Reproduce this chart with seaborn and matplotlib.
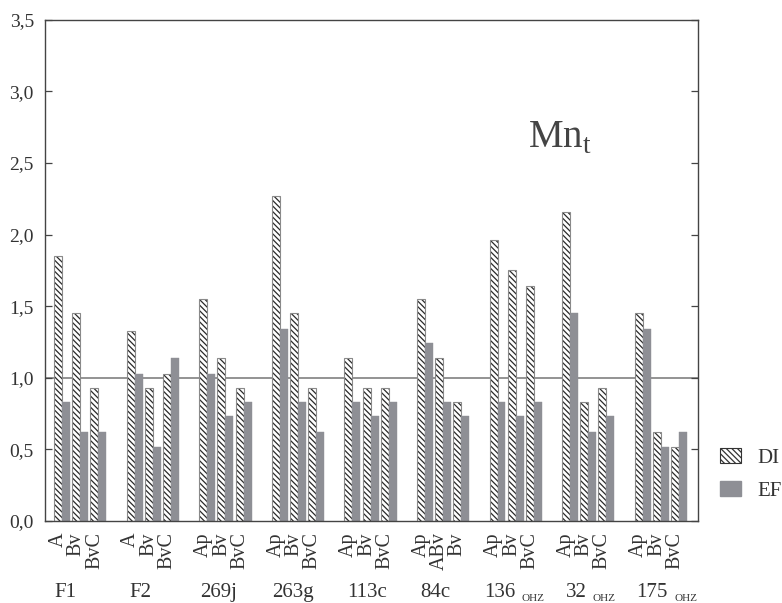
import matplotlib
matplotlib.use("Agg")
import matplotlib.pyplot as plt
from matplotlib.patches import Patch
import numpy as np
import pandas as pd
import seaborn as sns

# profiles and their horizons
profiles = ["F1", "F2", "269j", "263g", "113c", "84c", "136", "32", "175"]
profile_sub = ["", "", "", "", "", "", "OHZ", "OHZ", "OHZ"]
horizons = [
    ["A", "Bv", "BvC"],
    ["A", "Bv", "BvC"],
    ["Ap", "Bv", "BvC"],
    ["Ap", "Bv", "BvC"],
    ["Ap", "Bv", "BvC"],
    ["Ap", "ABv", "Bv"],
    ["Ap", "Bv", "BvC"],
    ["Ap", "Bv", "BvC"],
    ["Ap", "Bv", "BvC"],
]
di_values = [
    [1.85, 1.45, 0.93],
    [1.33, 0.93, 1.03],
    [1.55, 1.14, 0.93],
    [2.27, 1.45, 0.93],
    [1.14, 0.93, 0.93],
    [1.55, 1.14, 0.83],
    [1.96, 1.75, 1.64],
    [2.16, 0.83, 0.93],
    [1.45, 0.62, 0.52],
]
ef_values = [
    [0.83, 0.62, 0.62],
    [1.03, 0.52, 1.14],
    [1.03, 0.73, 0.83],
    [1.34, 0.83, 0.62],
    [0.83, 0.73, 0.83],
    [1.24, 0.83, 0.73],
    [0.83, 0.73, 0.83],
    [1.45, 0.62, 0.73],
    [1.34, 0.52, 0.62],
]
y_ticks = [0.0, 0.5, 1.0, 1.5, 2.0, 2.5, 3.0, 3.5]

# long-form table, one slot per horizon, an empty slot between profiles
rows = []
for g, (hz, di, ef) in enumerate(zip(horizons, di_values, ef_values)):
    for h in range(len(hz)):
        pos = 4 * g + h
        rows.append({"pos": pos, "horizon": hz[h], "index": "DI", "value": di[h]})
        rows.append({"pos": pos, "horizon": hz[h], "index": "EF", "value": ef[h]})
df = pd.DataFrame(rows)

sns.set_theme(style="ticks")
plt.rcParams["font.family"] = ["Liberation Serif", "DejaVu Serif"]
plt.rcParams["mathtext.fontset"] = "custom"
plt.rcParams["mathtext.rm"] = "Liberation Serif"
plt.rcParams["hatch.linewidth"] = 0.9
TXT = "#333333"
GRAY = "#8e8f95"

fig = plt.figure(figsize=(7.82, 6.03), dpi=100)
ax = fig.add_axes([0.0575, 0.136, 0.835, 0.831])

ax.axhline(1.0, color="#8a8a8a", lw=1.3, zorder=0.5)
sns.barplot(data=df, x="pos", y="value", hue="index", native_scale=True,
            width=0.88, dodge=True, errorbar=None, legend=False,
            palette={"DI": "white", "EF": GRAY}, saturation=1, ax=ax)

hatch = "\\\\\\\\\\\\"
for p in ax.containers[0]:
    p.set_facecolor("white")
    p.set_edgecolor("#8a8a8a")
    p.set_linewidth(0.8)
    p.set_hatch(hatch)
    if hasattr(p, "set_hatchcolor"):
        p.set_hatchcolor("#2a2a2a")
    else:
        p._hatch_color = matplotlib.colors.to_rgba("#2a2a2a")
for p in ax.containers[1]:
    p.set_facecolor(GRAY)
    p.set_edgecolor(GRAY)
    p.set_linewidth(0.3)

ax.set_xlim(-0.95, 35.05)
ax.set_ylim(0, 3.5)
ax.set_xticks([])
ax.set_xlabel("")
ax.set_ylabel("")
ax.set_yticks(y_ticks)
ax.set_yticklabels([f"{v:.1f}".replace(".", ",") for v in y_ticks],
                   fontsize=14, color=TXT)
ax.tick_params(axis="y", direction="in", length=5, width=0.9, pad=8,
               right=True, colors="#444444", labelcolor=TXT)
for s in ax.spines.values():
    s.set_visible(True)
    s.set_color("#444444")
    s.set_linewidth(1.0)

tr = ax.get_xaxis_transform()
# horizon labels
for g, hz in enumerate(horizons):
    for h, name in enumerate(hz):
        ax.text(4 * g + h - 0.22, -0.022, name, rotation=90, ha="center",
                va="top", fontsize=14.5, color=TXT, transform=tr)

# profile labels
label_x = [0.17, 4.3, 8.6, 12.73, 16.8, 20.55, 25.0, 28.9, 33.4]
for name, sub, x in zip(profiles, profile_sub, label_x):
    if sub:
        ax.text(x, -0.152, name, ha="right", va="baseline", fontsize=15,
                color=TXT, transform=tr)
        ax.text(x + 0.35, -0.16, sub, ha="left", va="baseline", fontsize=8,
                color=TXT, transform=tr)
    else:
        ax.text(x, -0.152, name, ha="center", va="baseline", fontsize=15,
                color=TXT, transform=tr)

ax.text(0.74, 0.745, r"Mn$_{\rm t}$", transform=ax.transAxes, fontsize=28,
        color="#444444", ha="left", va="baseline")

handles = [
    Patch(facecolor="white", edgecolor="#333333", hatch=hatch, linewidth=0.8, label="DI"),
    Patch(facecolor=GRAY, edgecolor=GRAY, label="EF"),
]
fig.legend(handles=handles, loc="center left", bbox_to_anchor=(0.921, 0.213),
           frameon=False, fontsize=15, handlelength=1.0, handleheight=0.7,
           handletextpad=0.8, labelspacing=0.65, borderpad=0, borderaxespad=0,
           labelcolor=TXT)

fig.savefig("out.png", dpi=100)
